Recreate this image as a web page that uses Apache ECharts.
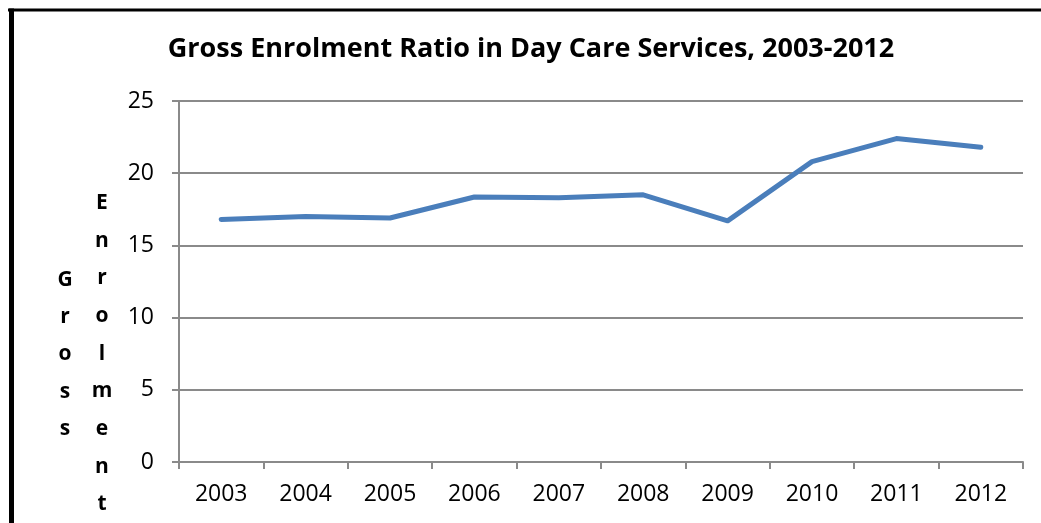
<!DOCTYPE html>
<html>
<head>
<meta charset="utf-8">
<script src="https://cdn.jsdelivr.net/npm/echarts@6/dist/echarts.min.js"></script>
<style>
  html, body { margin: 0; padding: 0; background: #fff; }
  #chart { width: 1041px; height: 523px; }
</style>
</head>
<body>
<div id="chart"></div>
<script>
// Gross enrolment ratio (%) in day care services by year
const years = ['2003', '2004', '2005', '2006', '2007', '2008', '2009', '2010', '2011', '2012'];
const enrolmentRatio = [16.8, 17.0, 16.9, 18.35, 18.3, 18.5, 16.7, 20.8, 22.4, 21.8];
const yTicks = [0, 5, 10, 15, 20, 25];

const chartTitle = 'Gross Enrolment Ratio in Day Care Services, 2003-2012';
const axisWordA = 'Gross';
const axisWordB = 'Enrolment';

const font = '"Open Sans", "Liberation Sans", sans-serif';
const gridGrey = '#8a8a8a';

const chart = echarts.init(document.getElementById('chart'), null, { renderer: 'canvas' });

chart.setOption({
  backgroundColor: '#ffffff',
  animation: false,
  title: {
    text: chartTitle,
    left: 526,
    textAlign: 'center',
    top: 31,
    textStyle: { fontFamily: font, fontWeight: 'bold', fontSize: 27, color: '#000' }
  },
  grid: { left: 179, right: 18, top: 101, bottom: 61 },
  xAxis: {
    type: 'category',
    data: years,
    boundaryGap: true,
    axisLine: { lineStyle: { color: gridGrey, width: 2 } },
    axisTick: { show: true, length: 7, lineStyle: { color: gridGrey, width: 2 } },
    axisLabel: { margin: 21, color: '#000', fontFamily: font, fontSize: 23 }
  },
  yAxis: {
    type: 'value',
    min: yTicks[0],
    max: yTicks[yTicks.length - 1],
    interval: yTicks[1] - yTicks[0],
    axisLine: { show: true, lineStyle: { color: gridGrey, width: 2 } },
    axisTick: { show: true, length: 7, lineStyle: { color: gridGrey, width: 2 } },
    splitLine: { lineStyle: { color: gridGrey, width: 2 } },
    axisLabel: { margin: 25, color: '#000', fontFamily: font, fontSize: 23 }
  },
  series: [{
    type: 'line',
    data: enrolmentRatio,
    showSymbol: false,
    symbol: 'none',
    lineStyle: { color: '#4a7ebb', width: 5, cap: 'round', join: 'round' },
    itemStyle: { color: '#4a7ebb' }
  }],
  graphic: [
    // stacked letters of the y-axis title, one column per word
    {
      type: 'text',
      style: {
        x: 65, y: 261,
        text: axisWordA.split('').join('\n'),
        fontFamily: font, fontWeight: 'bold', fontSize: 21, lineHeight: 37.3,
        fill: '#000', align: 'center', verticalAlign: 'top'
      }
    },
    {
      type: 'text',
      style: {
        x: 102, y: 184,
        text: axisWordB.split('').join('\n'),
        fontFamily: font, fontWeight: 'bold', fontSize: 21, lineHeight: 37.7,
        fill: '#000', align: 'center', verticalAlign: 'top'
      }
    },
    // outer frame (top and left edges)
    {
      type: 'line', silent: true,
      shape: { x1: 8, y1: 10, x2: 1041, y2: 10 },
      style: { stroke: '#000', lineWidth: 3 }
    },
    {
      type: 'line', silent: true,
      shape: { x1: 11.5, y1: 8.5, x2: 11.5, y2: 523 },
      style: { stroke: '#000', lineWidth: 5 }
    }
  ]
});
</script>
</body>
</html>
